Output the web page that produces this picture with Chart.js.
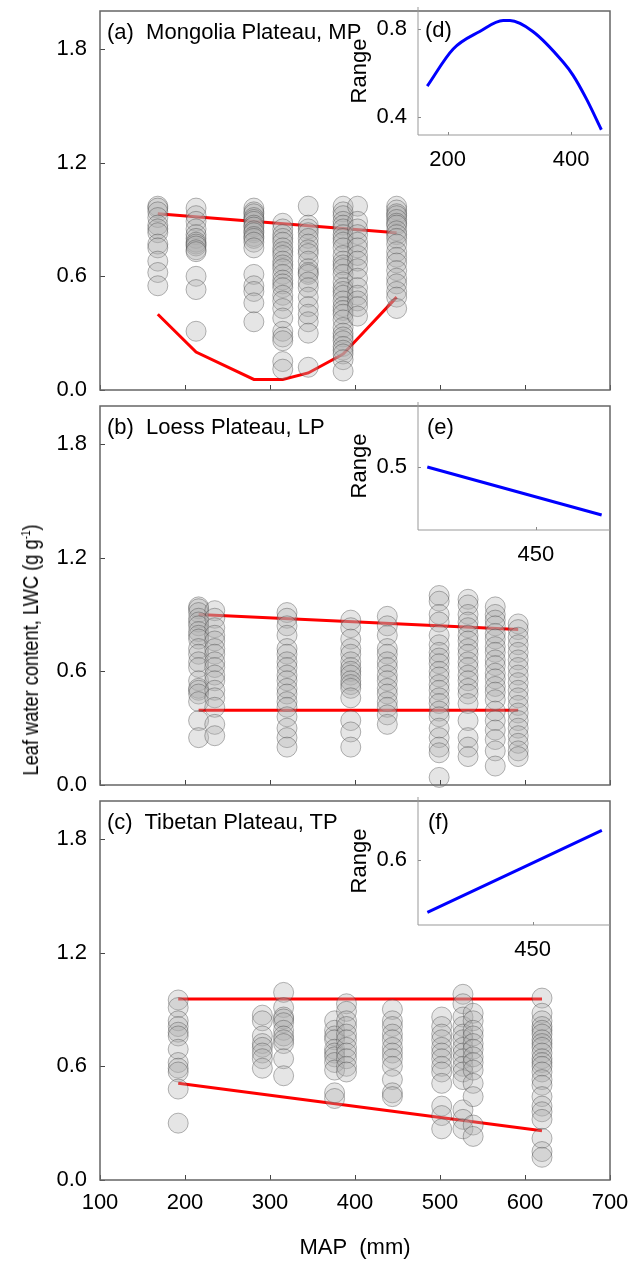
<!DOCTYPE html>
<html>
<head>
<meta charset="utf-8">
<script src="https://cdn.jsdelivr.net/npm/chart.js@4.4.1/dist/chart.umd.min.js"></script>
<style>
body { margin: 0; background: #fff; }
#fig { position: relative; width: 630px; height: 1261px; overflow: hidden; font-family: "Liberation Sans", Arial, sans-serif; }
#fig canvas { position: absolute; }
.lab { position: absolute; font-size: 22px; line-height: 1; white-space: pre; transform: translateY(-50%); color: #000; }
#ytitle { position: absolute; left: 31px; top: 650px; transform: translate(-50%, -50%) rotate(-90deg) scaleX(0.83);
  font: 22px "Liberation Sans", Arial, sans-serif; white-space: nowrap; }
#ytitle sup { font-size: 12px; }
</style>
</head>
<body>
<div id="fig">
  <canvas id="pa" width="630" height="405" style="left:0;top:0"></canvas>
  <canvas id="pb" width="630" height="405" style="left:0;top:395px"></canvas>
  <canvas id="pc" width="630" height="471" style="left:0;top:790px"></canvas>
  <canvas id="pd" width="300" height="180" style="left:330px;top:0"></canvas>
  <canvas id="pe" width="300" height="180" style="left:330px;top:395px"></canvas>
  <canvas id="pf" width="300" height="180" style="left:330px;top:790px"></canvas>
  <div class="lab" style="left:107px;top:32px">(a)  Mongolia Plateau, MP</div>
  <div class="lab" style="left:107px;top:427px">(b)  Loess Plateau, LP</div>
  <div class="lab" style="left:107px;top:822px">(c)  Tibetan Plateau, TP</div>
  <div class="lab" style="left:425px;top:30px">(d)</div>
  <div class="lab" style="left:427px;top:427px">(e)</div>
  <div class="lab" style="left:428px;top:822px">(f)</div>
  <div id="ytitle">Leaf water content, LWC (g g<sup>-1</sup>)</div>
</div>
<script>
// (a) Mongolia Plateau: MAP of each site column and its LWC values
var mpMap = [168, 213, 281, 315, 345, 386, 403, 449];
var mpLwc = [
  [0.97, 0.96, 0.94, 0.91, 0.87, 0.85, 0.83, 0.77, 0.75, 0.68, 0.62, 0.55],
  [0.96, 0.92, 0.89, 0.85, 0.82, 0.80, 0.78, 0.77, 0.76, 0.74, 0.73, 0.60, 0.53, 0.31],
  [0.96, 0.94, 0.93, 0.91, 0.90, 0.89, 0.87, 0.86, 0.84, 0.83, 0.81, 0.80, 0.78, 0.75, 0.61, 0.55, 0.52, 0.46, 0.36],
  [0.88, 0.85, 0.82, 0.80, 0.78, 0.75, 0.73, 0.71, 0.68, 0.66, 0.64, 0.61, 0.58, 0.56, 0.54, 0.50, 0.47, 0.43, 0.38, 0.31, 0.28, 0.26, 0.15, 0.11],
  [0.97, 0.87, 0.85, 0.83, 0.80, 0.77, 0.74, 0.72, 0.68, 0.64, 0.62, 0.61, 0.57, 0.54, 0.49, 0.44, 0.40, 0.36, 0.30, 0.12],
  [0.97, 0.94, 0.92, 0.89, 0.87, 0.85, 0.82, 0.80, 0.78, 0.75, 0.71, 0.68, 0.66, 0.64, 0.61, 0.57, 0.54, 0.52, 0.50, 0.47, 0.44, 0.42, 0.40, 0.37, 0.33, 0.30, 0.28, 0.26, 0.23, 0.21, 0.19, 0.16, 0.10],
  [0.97, 0.89, 0.85, 0.82, 0.78, 0.75, 0.71, 0.68, 0.64, 0.59, 0.54, 0.50, 0.47, 0.44, 0.39],
  [0.97, 0.95, 0.93, 0.92, 0.90, 0.88, 0.87, 0.84, 0.82, 0.80, 0.77, 0.73, 0.70, 0.67, 0.63, 0.59, 0.56, 0.52, 0.49, 0.43]
];
var mpUpperX = [168, 449], mpUpperY = [0.93, 0.83];
var mpLowerX = [168, 213, 281, 315, 345, 386, 403, 449];
var mpLowerY = [0.40, 0.20, 0.056, 0.056, 0.09, 0.19, 0.27, 0.49];

// (b) Loess Plateau
var lpMap = [216, 235, 320, 395, 438, 499, 533, 565, 592];
var lpLwc = [
  [0.94, 0.93, 0.91, 0.88, 0.86, 0.84, 0.81, 0.79, 0.77, 0.72, 0.69, 0.65, 0.62, 0.55, 0.51, 0.50, 0.48, 0.44, 0.34, 0.25],
  [0.92, 0.88, 0.83, 0.79, 0.76, 0.72, 0.69, 0.65, 0.62, 0.58, 0.55, 0.50, 0.46, 0.41, 0.32, 0.26],
  [0.91, 0.88, 0.84, 0.79, 0.72, 0.69, 0.65, 0.62, 0.58, 0.55, 0.51, 0.48, 0.44, 0.41, 0.36, 0.30, 0.25, 0.20],
  [0.87, 0.83, 0.77, 0.72, 0.69, 0.65, 0.62, 0.60, 0.58, 0.55, 0.53, 0.51, 0.46, 0.34, 0.28, 0.20],
  [0.89, 0.84, 0.79, 0.72, 0.69, 0.65, 0.62, 0.58, 0.55, 0.51, 0.48, 0.44, 0.41, 0.37, 0.32],
  [1.00, 0.97, 0.90, 0.86, 0.79, 0.74, 0.70, 0.67, 0.64, 0.60, 0.57, 0.53, 0.50, 0.46, 0.43, 0.39, 0.36, 0.30, 0.25, 0.20, 0.17, 0.04],
  [0.98, 0.95, 0.90, 0.86, 0.83, 0.79, 0.76, 0.72, 0.69, 0.65, 0.62, 0.58, 0.55, 0.51, 0.48, 0.43, 0.34, 0.25, 0.20, 0.15],
  [0.94, 0.90, 0.87, 0.84, 0.80, 0.77, 0.73, 0.70, 0.66, 0.63, 0.59, 0.56, 0.52, 0.49, 0.45, 0.39, 0.34, 0.29, 0.24, 0.18, 0.10],
  [0.85, 0.82, 0.78, 0.74, 0.70, 0.66, 0.62, 0.58, 0.54, 0.50, 0.46, 0.42, 0.38, 0.34, 0.30, 0.26, 0.22, 0.18, 0.15]
];
var lpUpperX = [216, 592], lpUpperY = [0.90, 0.82];
var lpLowerX = [216, 592], lpLowerY = [0.395, 0.395];

// (c) Tibetan Plateau
var tpMap = [192, 291, 316, 376, 390, 444, 502, 527, 539, 620];
var tpLwc = [
  [0.95, 0.91, 0.84, 0.81, 0.78, 0.76, 0.69, 0.62, 0.59, 0.57, 0.48, 0.30],
  [0.87, 0.84, 0.76, 0.72, 0.70, 0.67, 0.64, 0.59],
  [0.99, 0.91, 0.86, 0.85, 0.83, 0.79, 0.76, 0.74, 0.72, 0.64, 0.55],
  [0.84, 0.79, 0.76, 0.74, 0.69, 0.67, 0.65, 0.62, 0.58, 0.46, 0.43],
  [0.93, 0.89, 0.84, 0.81, 0.77, 0.74, 0.70, 0.67, 0.64, 0.60, 0.57],
  [0.90, 0.84, 0.81, 0.77, 0.74, 0.70, 0.67, 0.64, 0.60, 0.53, 0.46, 0.44],
  [0.86, 0.81, 0.77, 0.74, 0.70, 0.67, 0.64, 0.60, 0.57, 0.51, 0.39, 0.34, 0.27],
  [0.98, 0.93, 0.86, 0.81, 0.77, 0.74, 0.70, 0.67, 0.64, 0.60, 0.57, 0.53, 0.37, 0.32, 0.27],
  [0.88, 0.84, 0.79, 0.76, 0.72, 0.69, 0.65, 0.62, 0.58, 0.51, 0.44, 0.29, 0.23],
  [0.96, 0.88, 0.84, 0.81, 0.79, 0.77, 0.74, 0.72, 0.70, 0.67, 0.64, 0.62, 0.60, 0.57, 0.53, 0.50, 0.44, 0.39, 0.36, 0.32, 0.22, 0.15, 0.12]
];
var tpUpperX = [192, 620], tpUpperY = [0.955, 0.955];
var tpLowerX = [192, 620], tpLowerY = [0.51, 0.26];

// insets: range of LWC along MAP
var dMap = [167, 209, 252, 290, 301, 338, 387, 403, 425, 449];
var dRange = [0.54, 0.71, 0.79, 0.84, 0.84, 0.79, 0.65, 0.59, 0.48, 0.34];
var eMap = [216, 592], eRange = [0.50, 0.42];
var fMap = [192, 620], fRange = [0.44, 0.69];

// tick labels
var mainYTicks = [0, 0.6, 1.2, 1.8];
var dXTicks = [200, 400], dYTicks = [0.4, 0.8];
var eXTicks = [450], eYTicks = [0.5];
var fXTicks = [450], fYTicks = [0.6];

Chart.defaults.font.family = '"Liberation Sans", Arial, sans-serif';
Chart.defaults.font.size = 22;
Chart.defaults.color = '#000';

/* frame + inner tick marks */
var framePlugin = {
  id: 'frame',
  afterDraw: function (chart, args, o) {
    var ctx = chart.ctx, a = chart.chartArea, x = chart.scales.x, y = chart.scales.y;
    ctx.save();
    ctx.strokeStyle = o.tickColor;
    ctx.lineWidth = 1;
    ctx.beginPath();
    x.ticks.forEach(function (t) {
      var px = Math.round(x.getPixelForValue(t.value)) + 0.5;
      ctx.moveTo(px, a.bottom);
      ctx.lineTo(px, a.bottom - o.tick);
    });
    y.ticks.forEach(function (t) {
      var py = Math.round(y.getPixelForValue(t.value)) + 0.5;
      ctx.moveTo(a.left, py);
      ctx.lineTo(a.left + o.tick, py);
    });
    ctx.stroke();
    ctx.strokeStyle = o.color;
    ctx.lineWidth = o.width;
    ctx.beginPath();
    if (o.full) {
      ctx.rect(a.left, a.top, a.right - a.left, a.bottom - a.top);
    } else {
      ctx.moveTo(a.left, a.top);
      ctx.lineTo(a.left, a.bottom);
      ctx.lineTo(a.right, a.bottom);
    }
    ctx.stroke();
    ctx.restore();
  }
};

function points(xs, ys) {
  return xs.map(function (v, i) { return { x: v, y: ys[i] }; });
}

function columns(maps, vals) {
  var pts = [];
  maps.forEach(function (m, i) {
    vals[i].forEach(function (v) { pts.push({ x: m, y: v }); });
  });
  return pts;
}

function redLine(xs, ys) {
  return { type: 'line', data: points(xs, ys), borderColor: '#ff0000', borderWidth: 3,
    pointRadius: 0, tension: 0, fill: false };
}

function fixTicks(list) {
  return function (s) { s.ticks = list.map(function (v) { return { value: v }; }); };
}

// fixed axis size, no extra room for half labels
function fitTo(w, h) {
  return function (s) {
    if (w !== null) s.width = w;
    if (h !== null) s.height = h;
    s.paddingTop = 0; s.paddingBottom = 0; s.paddingLeft = 0; s.paddingRight = 0;
  };
}

function mainPanel(id, maps, vals, upX, upY, loX, loY, showX) {
  new Chart(document.getElementById(id), {
    type: 'scatter',
    data: {
      datasets: [
        { data: columns(maps, vals), pointRadius: 10, pointHoverRadius: 10,
          backgroundColor: 'rgba(175,175,175,0.32)', borderColor: 'rgba(60,60,60,0.38)',
          borderWidth: 1, clip: false },
        redLine(upX, upY),
        redLine(loX, loY)
      ]
    },
    options: {
      responsive: false,
      animation: false,
      layout: { padding: { top: 7, right: 20, left: 0, bottom: 0 } },
      plugins: { legend: { display: false }, tooltip: { enabled: false },
        frame: { color: '#666', width: 1.5, tick: 5, tickColor: '#444', full: true } },
      scales: {
        x: { type: 'linear', min: 100, max: 700,
          afterFit: fitTo(null, showX ? 81 : 15),
          grid: { display: false, drawTicks: false }, border: { display: false },
          ticks: { display: showX, stepSize: 100, autoSkip: false, maxRotation: 0, padding: 10 },
          title: { display: showX, text: 'MAP  (mm)', padding: { top: 0, bottom: 0 } } },
        y: { type: 'linear', min: 0, max: 2.0,
          afterFit: fitTo(100, null),
          afterBuildTicks: fixTicks(mainYTicks),
          grid: { display: false, drawTicks: false }, border: { display: false },
          ticks: { padding: 13, callback: function (v) { return v.toFixed(1); } } }
      }
    },
    plugins: [framePlugin]
  });
}

function inset(id, xs, ys, xMin, xMax, xTicks, yMin, yMax, yTicks) {
  new Chart(document.getElementById(id), {
    type: 'line',
    data: {
      datasets: [{ data: points(xs, ys), borderColor: '#0000ff', borderWidth: 3,
        pointRadius: 0, cubicInterpolationMode: 'monotone', fill: false }]
    },
    options: {
      responsive: false,
      animation: false,
      layout: { padding: { top: 7, right: 20, left: 0, bottom: 0 } },
      plugins: { legend: { display: false }, tooltip: { enabled: false },
        frame: { color: '#999', width: 1, tick: 3, tickColor: '#888', full: false } },
      scales: {
        x: { type: 'linear', min: xMin, max: xMax,
          afterFit: fitTo(null, 45),
          afterBuildTicks: fixTicks(xTicks),
          grid: { display: false, drawTicks: false }, border: { display: false },
          ticks: { autoSkip: false, maxRotation: 0, padding: 12 } },
        y: { type: 'linear', min: yMin, max: yMax,
          afterFit: fitTo(88, null),
          afterBuildTicks: fixTicks(yTicks),
          grid: { display: false, drawTicks: false }, border: { display: false },
          ticks: { padding: 11, callback: function (v) { return v.toFixed(1); } },
          title: { display: true, text: 'Range', padding: { top: 17, bottom: 0 } } }
      }
    },
    plugins: [framePlugin]
  });
}

mainPanel('pa', mpMap, mpLwc, mpUpperX, mpUpperY, mpLowerX, mpLowerY, false);
mainPanel('pb', lpMap, lpLwc, lpUpperX, lpUpperY, lpLowerX, lpLowerY, false);
mainPanel('pc', tpMap, tpLwc, tpUpperX, tpUpperY, tpLowerX, tpLowerY, true);

inset('pd', dMap, dRange, 152, 463, dXTicks, 0.316, 0.902, dYTicks);
inset('pe', eMap, eRange, 196, 610, eXTicks, 0.395, 0.6085, eYTicks);
inset('pf', fMap, fRange, 169, 640, fXTicks, 0.4015, 0.7915, fYTicks);
</script>
</body>
</html>
